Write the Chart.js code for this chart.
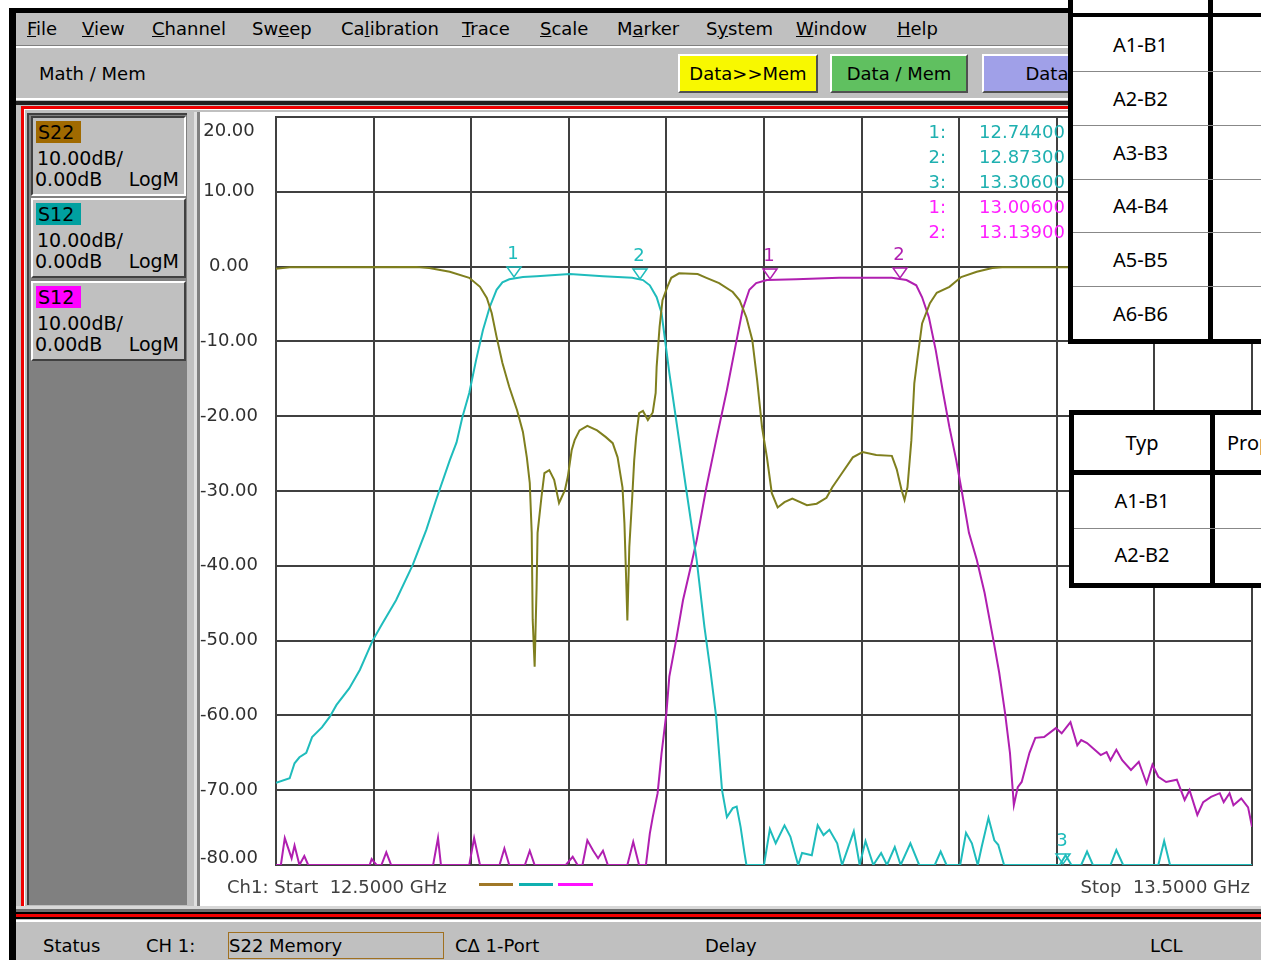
<!DOCTYPE html>
<html><head><meta charset="utf-8">
<script src="https://cdn.jsdelivr.net/npm/chart.js@4/dist/chart.umd.min.js"></script>
<style>
html,body{margin:0;padding:0;}
body{width:1261px;height:960px;position:relative;overflow:hidden;background:#fff;font-family:"DejaVu Sans",sans-serif;font-size:18px;color:#000;}
.a{position:absolute;}
.t{position:absolute;white-space:nowrap;line-height:20px;}
.menu span{position:absolute;top:6px;line-height:20px;white-space:nowrap;}
.btn{position:absolute;top:54px;height:39px;box-sizing:border-box;border:2px solid;border-color:#fff #505050 #505050 #fff;text-align:center;line-height:35px;white-space:nowrap;overflow:hidden;}
.tb{position:absolute;left:31px;width:155px;height:80px;background:#c0c0c0;box-sizing:border-box;border:2px solid;border-color:#fff #404040 #404040 #fff;font-size:19px;}
.tb.sel{border-color:#404040 #fff #fff #404040;}
.tb .lab{position:absolute;left:3px;top:3px;height:22px;width:45px;line-height:22px;padding-left:2px;box-sizing:border-box;}
.tb .l2{position:absolute;left:4px;top:30px;line-height:20px;}
.tb .l3{position:absolute;left:2px;top:51px;line-height:20px;}
.tb .l4{position:absolute;right:5px;top:51px;line-height:20px;}
.tbl{position:absolute;background:#fff;font-family:"Noto Sans",sans-serif;font-size:20px;}
.cell{position:absolute;text-align:center;line-height:20px;}
</style></head><body>

<!-- window frame -->
<div class="a" style="left:9px;top:8px;width:1260px;height:960px;background:#000"></div>
<div class="a menu" style="left:16px;top:13px;width:1250px;height:32px;background:#c0c0c0">
</div>
<div class="a" style="left:16px;top:45px;width:1250px;height:1px;background:#808080"></div>
<div class="a" style="left:16px;top:46px;width:1250px;height:2px;background:#fff"></div>
<div class="a" style="left:16px;top:48px;width:1250px;height:52px;background:#c0c0c0"></div>
<div class="t" style="left:39px;top:64px">Math / Mem</div>
<div class="btn" style="left:678px;width:140px;background:#f8f800">Data&gt;&gt;Mem</div>
<div class="btn" style="left:830px;width:138px;background:#60c060">Data / Mem</div>
<div class="btn" style="left:982px;width:192px;background:#a0a0e8">Data - Mem</div>
<div class="a" style="left:16px;top:98px;width:1250px;height:2px;background:#fff"></div>
<div class="a" style="left:16px;top:100px;width:1250px;height:825px;background:#c0c0c0"></div>
<div class="a" style="left:16px;top:101px;width:1250px;height:4px;background:#202020"></div>
<div class="a" style="left:21px;top:106px;width:1260px;height:812px;box-sizing:border-box;border:3px solid #f00000"></div>
<div class="a" style="left:24px;top:109px;width:1250px;height:806px;box-sizing:border-box;border:1px solid #fff"></div>
<!-- left panel -->
<div class="a" style="left:27px;top:113px;width:160px;height:792px;background:#808080;box-sizing:border-box;border-left:2px solid #404040;border-top:2px solid #404040"></div>
<div class="tb sel" style="top:116px"><div class="lab" style="background:#a06a00">S22</div><div class="l2">10.00dB/</div><div class="l3">0.00dB</div><div class="l4">LogM</div></div>
<div class="tb" style="top:198px"><div class="lab" style="background:#00a0a0">S12</div><div class="l2">10.00dB/</div><div class="l3">0.00dB</div><div class="l4">LogM</div></div>
<div class="tb" style="top:281px"><div class="lab" style="background:#ff00ff">S12</div><div class="l2">10.00dB/</div><div class="l3">0.00dB</div><div class="l4">LogM</div></div>
<!-- plot white area -->
<div class="a" style="left:194px;top:112px;width:1080px;height:794px;background:#fff;box-sizing:border-box;border-left:3px solid #e0e0e0"></div>
<div class="a" style="left:197px;top:112px;width:3px;height:794px;background:#808080"></div>
<!-- bottom bars -->
<div class="a" style="left:16px;top:906px;width:1250px;height:3px;background:#d8d8d8"></div>
<div class="a" style="left:16px;top:909px;width:1250px;height:3px;background:#707070"></div>
<div class="a" style="left:16px;top:912px;width:1250px;height:2px;background:#000"></div>
<div class="a" style="left:16px;top:914px;width:1250px;height:3px;background:#f00000"></div>
<div class="a" style="left:16px;top:917px;width:1250px;height:2px;background:#000"></div>
<div class="a" style="left:16px;top:920px;width:1250px;height:2px;background:#fff"></div>
<div class="a" style="left:16px;top:922px;width:1250px;height:40px;background:#c0c0c0"></div>
<div class="t" style="left:43px;top:936px">Status</div>
<div class="t" style="left:146px;top:936px">CH 1:</div>
<div class="a" style="left:228px;top:932px;width:216px;height:27px;box-sizing:border-box;border:1px solid #a07020"></div>
<div class="t" style="left:229px;top:936px">S22 Memory</div>
<div class="t" style="left:455px;top:936px">CΔ 1-Port</div>
<div class="t" style="left:705px;top:936px">Delay</div>
<div class="t" style="left:1150px;top:936px">LCL</div>

<canvas id="c" width="1061" height="805" style="position:absolute;left:200px;top:100px;width:1061px;height:805px;"></canvas>

<div id="readout"></div>
<div id="under"></div>

<!-- overlay tables -->
<div class="tbl" style="left:1068px;top:-40px;width:200px;height:384px;border:5px solid #000;box-sizing:border-box"></div>
<div class="a" style="left:1208px;top:0px;width:5px;height:342px;background:#000"></div>
<div class="a" style="left:1070px;top:13px;width:200px;height:4px;background:#000"></div>
<div class="a" style="left:1073px;top:71px;width:200px;height:1px;background:#888"></div>
<div class="a" style="left:1073px;top:125px;width:200px;height:1px;background:#888"></div>
<div class="a" style="left:1073px;top:179px;width:200px;height:1px;background:#888"></div>
<div class="a" style="left:1073px;top:232px;width:200px;height:1px;background:#888"></div>
<div class="a" style="left:1073px;top:286px;width:200px;height:1px;background:#888"></div>
<div class="cell" style="left:1073px;width:135px;top:35px;font-family:'Noto Sans';font-size:20px">A1-B1</div>
<div class="cell" style="left:1073px;width:135px;top:89px;font-family:'Noto Sans';font-size:20px">A2-B2</div>
<div class="cell" style="left:1073px;width:135px;top:143px;font-family:'Noto Sans';font-size:20px">A3-B3</div>
<div class="cell" style="left:1073px;width:135px;top:196px;font-family:'Noto Sans';font-size:20px">A4-B4</div>
<div class="cell" style="left:1073px;width:135px;top:250px;font-family:'Noto Sans';font-size:20px">A5-B5</div>
<div class="cell" style="left:1073px;width:135px;top:304px;font-family:'Noto Sans';font-size:20px">A6-B6</div>

<div class="tbl" style="left:1069px;top:410px;width:200px;height:178px;border:5px solid #000;box-sizing:border-box"></div>
<div class="a" style="left:1210px;top:410px;width:5px;height:178px;background:#000"></div>
<div class="a" style="left:1069px;top:470px;width:200px;height:5px;background:#000"></div>
<div class="a" style="left:1074px;top:528px;width:200px;height:1px;background:#888"></div>
<div class="cell" style="left:1074px;width:136px;top:433px;font-family:'Noto Sans';font-size:20px">Typ</div>
<div class="t" style="left:1227px;top:433px;font-family:'Noto Sans';font-size:20px">Prop</div>
<div class="cell" style="left:1074px;width:136px;top:491px;font-family:'Noto Sans';font-size:20px">A1-B1</div>
<div class="cell" style="left:1074px;width:136px;top:545px;font-family:'Noto Sans';font-size:20px">A2-B2</div>

<script>
// ---- menu / axis text ----
const menuItems = ['<u>F</u>ile','<u>V</u>iew','<u>C</u>hannel','Sw<u>e</u>ep','Ca<u>l</u>ibration','<u>T</u>race','<u>S</u>cale','M<u>a</u>rker','S<u>y</u>stem','<u>W</u>indow','<u>H</u>elp'];
const menuX = [27,82,152,252,341,462,540,617,706,796,897];

// ---- sweep ----
const startGHz = 12.5;
const stopGHz = 13.5;
const freqStep = 0.1;
const dbTop = 20;
const dbBottom = -80;
const dbStep = 10;

// ---- S22 (memory, olive) ----
const s22Freq = [12.500,12.514,12.644,12.657,12.678,12.698,12.709,12.716,12.721,12.726,12.732,12.739,12.747,12.753,12.757,12.760,12.762,12.763,12.765,12.767,12.768,12.772,12.775,12.780,12.785,12.790,12.796,12.799,12.803,12.806,12.811,12.819,12.829,12.838,12.845,12.850,12.855,12.857,12.859,12.860,12.862,12.865,12.867,12.869,12.872,12.876,12.881,12.886,12.889,12.890,12.893,12.896,12.901,12.905,12.913,12.932,12.941,12.954,12.968,12.975,12.982,12.988,12.993,12.998,13.003,13.008,13.014,13.021,13.029,13.044,13.054,13.064,13.070,13.080,13.091,13.101,13.115,13.131,13.136,13.141,13.144,13.147,13.151,13.154,13.157,13.162,13.170,13.177,13.190,13.202,13.218,13.234,13.244,13.306,13.500];
const s22Db = [-0.3,-0.1,-0.05,-0.2,-0.7,-1.5,-2.7,-4.2,-6.2,-9.4,-12.9,-16.1,-19.2,-22.1,-25.5,-28.9,-35.6,-47.2,-53.5,-42.9,-35.6,-30.8,-27.6,-27.2,-28.5,-31.6,-29.9,-28.1,-24.5,-23.2,-21.9,-21.3,-21.9,-22.8,-23.6,-25.5,-29.5,-34.3,-42.8,-47.3,-37.5,-30.8,-25.9,-22.8,-19.6,-19.3,-20.5,-19.5,-16.9,-13.4,-8.1,-4.5,-2.7,-1.5,-0.9,-1.0,-1.5,-2.2,-3.4,-4.5,-6.8,-9.8,-15.2,-21.5,-25.5,-30.3,-32.2,-31.5,-31.0,-31.9,-31.7,-30.9,-29.5,-27.6,-25.5,-24.8,-25.2,-25.3,-27.1,-29.9,-31.2,-29.5,-23.2,-15.6,-12.5,-7.6,-4.9,-3.5,-2.7,-1.4,-0.7,-0.2,-0.1,-0.1,-0.1];

// ---- S12 filter 1 (cyan) ----
const s12aFreq = [12.500,12.514,12.519,12.524,12.531,12.537,12.547,12.555,12.562,12.575,12.586,12.599,12.609,12.623,12.640,12.654,12.664,12.678,12.685,12.691,12.698,12.705,12.712,12.719,12.726,12.732,12.739,12.753,12.767,12.801,12.835,12.865,12.876,12.883,12.890,12.895,12.900,12.903,12.906,12.913,12.920,12.926,12.931,12.939,12.945,12.951,12.957,12.962,12.968,12.972,12.976,12.980,12.982,13.000,13.006,13.012,13.021,13.027,13.035,13.039,13.049,13.055,13.061,13.067,13.075,13.080,13.092,13.098,13.104,13.112,13.120,13.126,13.134,13.140,13.150,13.159,13.175,13.181,13.187,13.201,13.207,13.213,13.219,13.223,13.230,13.236,13.240,13.246,13.303,13.309,13.315,13.325,13.331,13.337,13.355,13.361,13.368,13.404,13.410,13.416,13.500];
const s12aDb = [-69.0,-68.4,-66.4,-65.6,-65.0,-62.9,-61.6,-60.2,-58.6,-56.4,-53.9,-50.0,-47.7,-44.6,-39.9,-35.2,-31.2,-25.9,-23.5,-20.1,-16.9,-12.5,-8.5,-5.4,-3.1,-2.1,-1.7,-1.4,-1.3,-1.0,-1.3,-1.5,-1.8,-2.5,-4.1,-6.2,-11.2,-14.2,-16.9,-23.2,-29.5,-34.8,-39.2,-48.2,-53.9,-60.2,-70.0,-73.6,-72.4,-72.2,-74.9,-78.4,-80,-80,-75.2,-77.1,-74.7,-76.2,-80,-78.4,-78.7,-74.7,-76.0,-75.3,-77.1,-80,-75.5,-80,-76.8,-80,-78.4,-80,-77.6,-80,-77.1,-80,-80,-78.2,-80,-80,-75.7,-77.1,-80,-77.6,-73.7,-76.7,-77.3,-80,-80,-78.7,-80,-80,-78.2,-80,-80,-78.0,-80,-80,-76.8,-80,-80];

// ---- S12 filter 2 (magenta) ----
const s12bFreq = [12.500,12.505,12.509,12.516,12.519,12.524,12.529,12.533,12.596,12.598,12.603,12.608,12.613,12.618,12.661,12.666,12.669,12.698,12.703,12.709,12.729,12.734,12.739,12.755,12.760,12.765,12.797,12.804,12.809,12.814,12.819,12.825,12.830,12.835,12.840,12.860,12.866,12.872,12.879,12.883,12.886,12.891,12.895,12.900,12.903,12.910,12.917,12.925,12.931,12.941,12.951,12.962,12.972,12.978,12.985,12.992,13.003,13.033,13.077,13.131,13.146,13.156,13.162,13.169,13.176,13.183,13.190,13.197,13.203,13.210,13.218,13.226,13.235,13.241,13.247,13.252,13.256,13.260,13.264,13.272,13.278,13.287,13.299,13.305,13.314,13.321,13.325,13.331,13.345,13.351,13.355,13.361,13.367,13.376,13.384,13.392,13.398,13.404,13.412,13.423,13.431,13.436,13.444,13.450,13.458,13.467,13.471,13.477,13.481,13.489,13.496,13.500];
const s12bDb = [-80,-80,-76.4,-79.1,-77.4,-80,-78.8,-80,-80,-79.2,-80,-80,-78.3,-80,-80,-76.4,-80,-80,-76.4,-80,-80,-77.8,-80,-80,-78.1,-80,-80,-78.9,-80,-80,-76.7,-78.1,-79.1,-78.1,-80,-80,-76.9,-80,-80,-75.8,-73.6,-70.4,-65.1,-59.7,-54.8,-49.9,-44.6,-40.1,-36.6,-29.5,-23.2,-16.5,-9.8,-5.8,-3.1,-2.2,-1.8,-1.7,-1.5,-1.5,-1.8,-2.5,-4.1,-6.8,-11.2,-16.5,-21.5,-25.9,-30.3,-35.6,-39.2,-43.6,-49.9,-54.3,-59.7,-65.0,-72.0,-69.6,-68.9,-65.0,-63.0,-62.9,-61.7,-62.4,-60.9,-64.0,-63.3,-63.7,-65.3,-64.9,-66.0,-64.6,-66.0,-67.3,-66.2,-69.1,-66.6,-68.2,-68.9,-68.6,-71.3,-70.0,-73.3,-71.6,-70.9,-70.4,-71.6,-70.4,-72.0,-71.1,-72.3,-74.9];

// ---- markers ----
const cyanMarkerFreq = [12.744, 12.873, 13.306];
const cyanMarkerDb = [-1.5, -1.8, -80];
const magMarkerFreq = [13.006, 13.139];
const magMarkerDb = [-1.8, -1.6];

const colS22 = '#7f7f1e', colCyan = '#1fbcbc', colMag = '#b01fb0';
const txtCyan = '#1fb0b0', txtMag = '#ff1fff';

// menu
const menu = document.querySelector('.menu');
menuItems.forEach((m,i)=>{ const s=document.createElement('span'); s.innerHTML=m; s.style.left=(menuX[i]-16)+'px'; menu.appendChild(s); });

// readouts
const ro = document.getElementById('readout');
function addRead(n, f, col, y){
  const a=document.createElement('div'); a.className='t'; a.style.cssText=`left:900px;width:46px;text-align:right;top:${y-10}px;color:${col}`; a.textContent=n+':'; ro.appendChild(a);
  const b=document.createElement('div'); b.className='t'; b.style.cssText=`left:979px;top:${y-10}px;color:${col}`; b.textContent=f.toFixed(5); ro.appendChild(b);
}
let ry=132;
cyanMarkerFreq.forEach((f,i)=>{addRead(i+1,f,txtCyan,ry); ry+=25;});
magMarkerFreq.forEach((f,i)=>{addRead(i+1,f,txtMag,ry); ry+=25;});

// under-plot text
const un = document.getElementById('under');
un.innerHTML = `<div class="t" style="left:227px;top:877px;color:#404040">Ch1: Start&nbsp; ${startGHz.toFixed(4)} GHz</div>
<div class="t" style="right:11px;top:877px;color:#404040">Stop&nbsp; ${stopGHz.toFixed(4)} GHz</div>
<div class="a" style="left:479px;top:883px;width:34px;height:3px;background:#a07828"></div>
<div class="a" style="left:519px;top:883px;width:34px;height:3px;background:#10b0b0"></div>
<div class="a" style="left:558px;top:883px;width:35px;height:3px;background:#ff10ff"></div>`;

const yLabelPlugin = {
  id:'yLabels',
  afterDraw(chart){
    const sc=chart.scales.y, ctx=chart.ctx, area=chart.chartArea;
    ctx.save();
    ctx.font='18px "DejaVu Sans"'; ctx.fillStyle='#303030'; ctx.textAlign='center'; ctx.textBaseline='middle';
    sc.ticks.forEach(t=>{
      let y=sc.getPixelForValue(t.value);
      y=Math.min(Math.max(y, area.top+14), area.bottom-7);
      ctx.fillText(t.value.toFixed(2), 29, y);
    });
    ctx.restore();
  }
};
const markerPlugin = {
  id:'markers',
  afterDatasetsDraw(chart){
    const xs=chart.scales.x, ys=chart.scales.y, ctx=chart.ctx;
    const sets=[[cyanMarkerFreq,cyanMarkerDb,colCyan],[magMarkerFreq,magMarkerDb,colMag]];
    ctx.save();
    ctx.font='18px "DejaVu Sans"'; ctx.textAlign='center'; ctx.textBaseline='middle';
    sets.forEach(([fs,ds,col])=>{
      fs.forEach((f,i)=>{
        const px=Math.round(xs.getPixelForValue(f)), py=Math.round(ys.getPixelForValue(ds[i]));
        ctx.strokeStyle=col; ctx.fillStyle=col; ctx.lineWidth=1.5;
        ctx.beginPath(); ctx.moveTo(px-7,py-11); ctx.lineTo(px+7,py-11); ctx.lineTo(px,py-1); ctx.closePath(); ctx.stroke();
        ctx.fillText(String(i+1), px-1, py-24);
      });
    });
    ctx.restore();
  }
};

const gridOpt = {color:'#404040', lineWidth:2, drawTicks:false};
new Chart(document.getElementById('c'), {
  type:'line',
  data:{datasets:[
    {label:'S22', data:s22Freq.map((f,i)=>({x:f,y:s22Db[i]})), borderColor:colS22, borderWidth:2},
    {label:'S12', data:s12aFreq.map((f,i)=>({x:f,y:s12aDb[i]})), borderColor:colCyan, borderWidth:2},
    {label:'S12', data:s12bFreq.map((f,i)=>({x:f,y:s12bDb[i]})), borderColor:colMag, borderWidth:2}
  ]},
  options:{
    responsive:false, animation:false, devicePixelRatio:1,
    elements:{point:{radius:0}, line:{tension:0}},
    layout:{padding:{left:3,right:9,top:17,bottom:40}},
    plugins:{legend:{display:false}, tooltip:{enabled:false}},
    scales:{
      x:{type:'linear', min:startGHz, max:stopGHz, ticks:{stepSize:freqStep, display:false}, grid:gridOpt, border:{color:'#404040', width:2}, afterFit(s){s.height=0;}},
      y:{type:'linear', min:dbBottom, max:dbTop, ticks:{stepSize:dbStep, display:false}, grid:gridOpt, border:{color:'#404040', width:2}, afterFit(s){s.width=73;}}
    }
  },
  plugins:[yLabelPlugin, markerPlugin]
});
</script>
</body></html>
